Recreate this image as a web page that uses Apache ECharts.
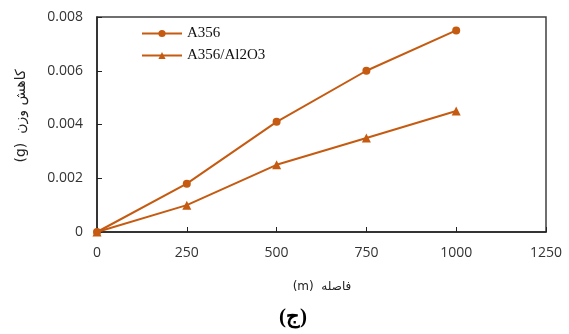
<!DOCTYPE html>
<html>
<head>
<meta charset="utf-8">
<script src="https://cdn.jsdelivr.net/npm/echarts@6/dist/echarts.min.js"></script>
<style>
  html, body { margin: 0; padding: 0; background: #fff; }
  #chart { width: 569px; height: 334px; }
</style>
</head>
<body>
<div id="chart"></div>
<script>
    var distances = [0, 250, 500, 750, 1000];
    var lossA356 = [0, 0.0018, 0.0041, 0.006, 0.0075];
    var lossComposite = [0, 0.001, 0.0025, 0.0035, 0.0045];
    var seriesNames = ['A356', 'A356/Al2O3'];

    var orange = '#C55A11';
    var myChart = echarts.init(document.getElementById('chart'));

    function pairs(xs, ys) {
        return xs.map(function (x, i) { return [x, ys[i]]; });
    }

    var option = {
        backgroundColor: '#fff',
        animation: false,
        grid: {
            left: 97, right: 23, top: 17, bottom: 102,
            show: true, borderColor: '#404040', borderWidth: 1.5
        },
        legend: {
            orient: 'vertical',
            left: 136, top: 21,
            itemWidth: 40, itemHeight: 9, itemGap: 7,
            textStyle: { fontFamily: 'Liberation Serif', fontSize: 15, color: '#111' },
            data: seriesNames
        },
        xAxis: {
            type: 'value', min: 0, max: 1250, interval: 250,
            axisLine: { lineStyle: { color: '#222', width: 1.5 } },
            axisTick: { inside: true, length: 5, lineStyle: { color: '#222' } },
            axisLabel: {
                margin: 14, fontFamily: 'Open Sans', fontSize: 14, color: '#333',
                formatter: function (v) { return String(v); }
            },
            splitLine: { show: false }
        },
        yAxis: {
            type: 'value', min: 0, max: 0.008, interval: 0.002,
            axisLine: { show: true, lineStyle: { color: '#222', width: 1.5 } },
            axisTick: { show: true, inside: true, length: 5, lineStyle: { color: '#222' } },
            axisLabel: {
                margin: 14, fontFamily: 'Open Sans', fontSize: 14, color: '#333',
                formatter: function (v) { return v === 0 ? '0' : v.toFixed(3); }
            },
            splitLine: { show: false }
        },
        graphic: [
            {
                type: 'text', x: 21, y: 116, rotation: Math.PI / 2,
                style: {
                    text: '(g)  کاهش وزن', fill: '#222', fontSize: 14,
                    fontFamily: 'DejaVu Sans', align: 'center', verticalAlign: 'middle'
                }
            },
            {
                type: 'text', x: 322, y: 287,
                style: {
                    text: '(m)  فاصله', fill: '#222', fontSize: 12,
                    fontFamily: 'DejaVu Sans', align: 'center', verticalAlign: 'middle'
                }
            },
            {
                type: 'text', x: 293, y: 318,
                style: {
                    text: '(ج)', fill: '#000', fontSize: 21, fontWeight: 'bold',
                    fontFamily: 'Liberation Serif', align: 'center', verticalAlign: 'middle'
                }
            }
        ],
        series: [
            {
                name: seriesNames[0], type: 'line',
                data: pairs(distances, lossA356),
                symbol: 'circle', symbolSize: 8,
                lineStyle: { color: orange, width: 2 },
                itemStyle: { color: orange }
            },
            {
                name: seriesNames[1], type: 'line',
                data: pairs(distances, lossComposite),
                symbol: 'triangle', symbolSize: 9,
                lineStyle: { color: orange, width: 2 },
                itemStyle: { color: orange }
            }
        ]
    };
    myChart.setOption(option);
</script>
</body>
</html>
